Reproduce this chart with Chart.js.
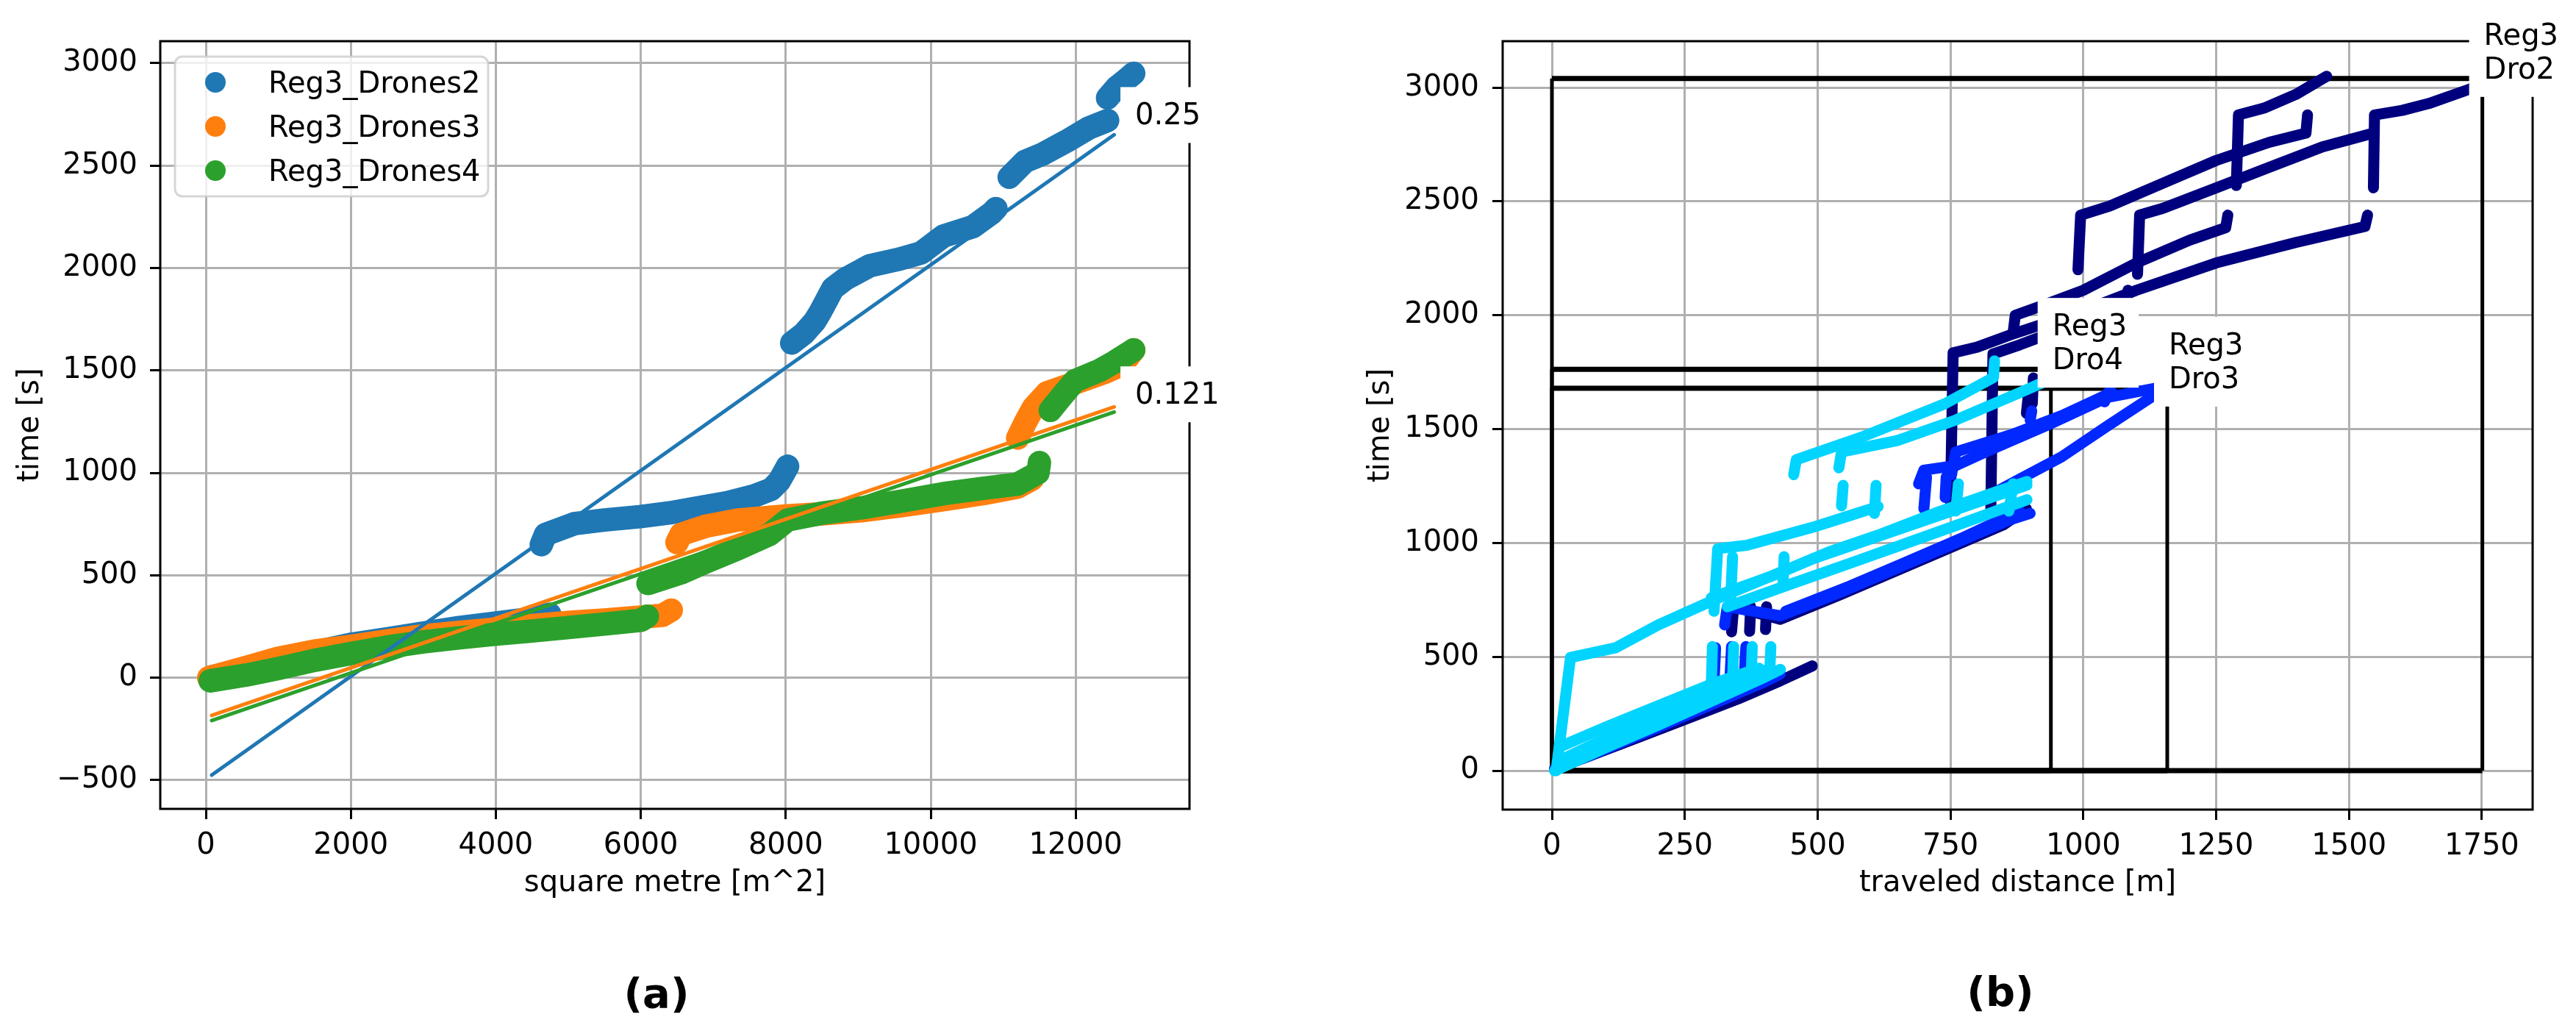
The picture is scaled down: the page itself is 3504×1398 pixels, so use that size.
<!DOCTYPE html>
<html>
<head>
<meta charset="utf-8">
<script src="https://cdn.jsdelivr.net/npm/chart.js@4.4.1/dist/chart.umd.min.js"></script>
<style>
  html, body { margin: 0; padding: 0; background: #fff; }
  body { width: 3504px; height: 1398px; position: relative; overflow: hidden; }
  canvas { position: absolute; top: 0; }
  #chartA { left: 0; }
  #chartB { left: 1750px; }
  .cap { position: absolute; font: bold 56px "DejaVu Sans"; transform: translate(-50%, -50%); }
</style>
</head>
<body>
<canvas id="chartA" width="1750" height="1260"></canvas>
<canvas id="chartB" width="1754" height="1260"></canvas>
<div class="cap" style="left:893px; top:1350px">(a)</div>
<div class="cap" style="left:2721px; top:1348px">(b)</div>
<script>
// ---------- (a) time vs covered area ----------
const areaTicks = [0, 2000, 4000, 6000, 8000, 10000, 12000];
const timeTicksA = [-500, 0, 500, 1000, 1500, 2000, 2500, 3000];
const seriesNames = ['Reg3_Drones2', 'Reg3_Drones3', 'Reg3_Drones4'];
const seriesColors = ['#1f77b4', '#ff7f0e', '#2ca02c'];

// runs of dots, [square metre, time]
const drones2Runs = [
  [[80,5],[600,45],[1122,90],[1500,125],[2028,165],[2500,190],[3043,220],[3500,245],[3951,265],[4400,285],[4744,310]],
  [[4628,650],[4687,700],[5083,752],[5500,770],[5989,786],[6400,805],[6781,829],[7200,855],[7574,889],[7800,920],[7911,960],[8025,1032]],
  [[8083,1634],[8250,1680],[8400,1740],[8479,1786],[8650,1900],[8820,1946],[9160,2011],[9567,2043],[9870,2074],[10176,2156],[10582,2202],[10837,2267],[10900,2290]],
  [[11083,2443],[11300,2520],[11533,2554],[11875,2619],[12180,2683],[12440,2720]],
  [[12440,2830],[12560,2880],[12700,2920],[12800,2950]]
];
const drones3Runs = [
  [[40,0],[555,50],[1000,95],[1500,130],[2028,155],[2500,180],[3000,205],[3500,222],[3951,236],[4500,255],[5000,270],[5500,282],[6000,296],[6300,305],[6420,330]],
  [[6500,660],[6555,700],[6900,740],[7346,770],[8026,790],[8500,800],[9040,815],[9600,840],[10200,870],[10740,900],[11196,930],[11400,970]],
  [[11200,1170],[11310,1250],[11420,1320],[11600,1390],[12000,1440],[12400,1490],[12650,1530],[12800,1600]]
];
const drones4Runs = [
  [[60,-15],[555,13],[1000,45],[1500,85],[2028,120],[2500,150],[3000,175],[3500,195],[3951,211],[4500,228],[5000,245],[5500,262],[6000,280],[6090,300]],
  [[6100,460],[6555,512],[6883,563],[7346,631],[7780,700],[8026,770],[8480,802],[9040,829],[9610,863],[10170,898],[10740,925],[11196,945],[11480,1000],[11500,1050]],
  [[11650,1305],[11800,1370],[11990,1450],[12330,1500],[12530,1540],[12800,1600]]
];

// linear fits: [start, end] in area and time
const fitArea = [81, 12530];
const fitDrones2 = [-475, 2650];
const fitDrones3 = [-184, 1322];
const fitDrones4 = [-209, 1297];
const slopeLabels = ['0.25', '0.121', null];
const maxArea = 12800;

// ---------- (b) time vs travelled distance ----------
const distTicks = [0, 250, 500, 750, 1000, 1250, 1500, 1750];
const timeTicksB = [0, 500, 1000, 1500, 2000, 2500, 3000];
const droNames = [['Reg3', 'Dro2'], ['Reg3', 'Dro3'], ['Reg3', 'Dro4']];
const droColors = ['#00007f', '#0028ff', '#00d4ff'];
const droMaxDist = [1751, 1158, 939];
const droMaxTime = [3040, 1680, 1763];

const dro2Paths = [
  [[5,10],[60,55],[150,135],[250,225],[350,315],[430,395],[490,460]],
  [[338,610],[342,720],[430,665],[540,770],[650,880],[760,990],[850,1080],[893,1150]],
  [[372,612],[374,720]],
  [[402,620],[404,720]],
  [[750,1180],[755,1835],[800,1860],[870,1920],[1000,2020],[1100,2110],[1250,2230],[1400,2320],[1530,2390],[1535,2440]],
  [[826,1150],[830,1830],[880,1870],[960,1940],[1050,2010],[1082,2050],[1084,2110]],
  [[868,1925],[872,2000],[920,2040],[1000,2110],[1100,2230],[1200,2330],[1268,2385],[1272,2440]],
  [[904,1612],[906,1725]],
  [[893,1570],[897,1660]],
  [[990,2200],[995,2440],[1050,2480],[1150,2580],[1250,2680],[1350,2760],[1419,2800],[1422,2880]],
  [[1102,2180],[1106,2440],[1150,2470],[1250,2560],[1350,2650],[1450,2740],[1546,2800]],
  [[1546,2560],[1548,2880],[1600,2900],[1650,2930],[1729,2995],[1751,3030]],
  [[1288,2570],[1292,2880],[1340,2910],[1400,2970],[1458,3050]]
];
const dro3Paths = [
  [[5,5],[80,75],[200,190],[300,290],[400,390],[430,425]],
  [[305,380],[308,540]], [[335,400],[338,545]], [[362,420],[365,545]],
  [[325,640],[330,720],[430,680],[550,790],[650,890],[760,1000],[860,1100],[900,1130]],
  [[440,700],[560,810],[660,910],[770,1020],[880,1140]],
  [[700,1150],[705,1290]], [[740,1200],[742,1290]],
  [[690,1260],[700,1320],[760,1340],[816,1400],[935,1520],[1046,1640],[1158,1690]],
  [[800,1180],[880,1280],[959,1378],[1046,1515],[1134,1650]],
  [[752,1300],[760,1400],[870,1480],[960,1560],[1054,1662]],
  [[900,1540],[903,1580]], [[1040,1620],[1046,1660]]
];
const dro4Paths = [
  [[5,0],[100,100],[200,200],[300,305],[400,410],[430,445]],
  [[10,40],[100,140],[200,240],[300,345],[400,440]],
  [[20,110],[100,190],[200,285],[300,380],[390,450]],
  [[8,0],[35,497],[120,540],[200,640],[305,750],[490,930],[740,1130],[894,1254]],
  [[300,380],[302,545]], [[340,400],[342,545]], [[375,420],[377,545]], [[410,440],[412,545]],
  [[305,700],[312,975],[367,990],[491,1069],[560,1120],[614,1160]],
  [[336,730],[340,940]],
  [[435,820],[437,940]],
  [[300,760],[420,860],[520,960],[620,1040],[720,1130],[830,1220],[894,1270]],
  [[330,720],[450,820],[560,910],[680,1010],[800,1110],[894,1190]],
  [[545,1163],[548,1253]], [[607,1130],[610,1253]], [[760,1140],[765,1260]], [[860,1140],[868,1260]],
  [[455,1300],[460,1366],[584,1466],[739,1611],[831,1727],[833,1800]],
  [[540,1330],[545,1400],[650,1450],[760,1540],[880,1660],[939,1720]]
];

const FONT = '"DejaVu Sans"';

function minusFmt(v) { return v < 0 ? '\u2212' + Math.abs(v) : String(v); }

function axis(ticks, titleText, titlePad, tickPad, fitSize, horizontal) {
  return {
    type: 'linear',
    afterBuildTicks: s => { s.ticks = ticks.map(v => ({ value: v })); },
    afterFit: s => { if (horizontal) s.height = fitSize; else s.width = fitSize; },
    grid: { color: '#b0b0b0', lineWidth: 3, tickColor: '#000', tickWidth: 3, tickLength: 14 },
    border: { display: false },
    ticks: { color: '#000', font: { family: FONT, size: 40 }, padding: tickPad,
      autoSkip: false, maxRotation: 0, callback: minusFmt },
    title: { display: true, text: titleText, color: '#000', font: { family: FONT, size: 40 },
      padding: horizontal ? { top: 0, bottom: titlePad } : { top: titlePad, bottom: 0 } }
  };
}

function lineSet(points, color, width, order) {
  return {
    type: 'scatter', showLine: true, order: order,
    data: points.map(([x, y]) => ({ x, y })),
    borderColor: color, backgroundColor: color, borderWidth: width,
    borderCapStyle: 'round', borderJoinStyle: 'round',
    pointRadius: 0, pointHoverRadius: 0, tension: 0, fill: false
  };
}

function boxedText(ctx, lines, x, y, gap) {
  ctx.font = '40px ' + FONT;
  const asc = ctx.measureText(lines[0]).actualBoundingBoxAscent;
  const w = Math.max(...lines.map(s => ctx.measureText(s).width));
  const top = y - (lines.length - 1) * gap - asc;
  ctx.fillStyle = '#fff';
  ctx.fillRect(x - 18, top - 20, w + 36, y - top + 45);
  ctx.fillStyle = '#000';
  ctx.textAlign = 'left';
  ctx.textBaseline = 'alphabetic';
  lines.forEach((s, i) => ctx.fillText(s, x + 2, y - (lines.length - 1 - i) * gap));
}

function frame(ctx, a) {
  ctx.save();
  ctx.strokeStyle = '#000';
  ctx.lineWidth = 3;
  ctx.strokeRect(a.left, a.top, a.right - a.left, a.bottom - a.top);
  ctx.restore();
}

// ---------- chart (a) ----------
const runsA = [drones2Runs, drones3Runs, drones4Runs];
const fitsA = [fitDrones2, fitDrones3, fitDrones4];
const datasetsA = [];
runsA.forEach((runs, i) => {
  runs.forEach(r => datasetsA.push(lineSet(r, seriesColors[i], 32, 6 - i)));
});
fitsA.forEach((f, i) => {
  datasetsA.push(lineSet([[fitArea[0], f[0]], [fitArea[1], f[1]]], seriesColors[i], 5, 3 - i));
});

const decorA = {
  id: 'decorA',
  afterDraw(chart) {
    const { ctx, chartArea: a, scales: { x, y } } = chart;
    frame(ctx, a);
    // legend
    ctx.save();
    const lx = a.left + 20, ly = a.top + 21, lw = 426, lh = 190;
    ctx.beginPath();
    ctx.roundRect(lx, ly, lw, lh, 10);
    ctx.fillStyle = 'rgba(255,255,255,0.8)';
    ctx.fill();
    ctx.strokeStyle = 'rgba(204,204,204,0.8)';
    ctx.lineWidth = 3;
    ctx.stroke();
    ctx.font = '40px ' + FONT;
    ctx.textBaseline = 'alphabetic';
    seriesNames.forEach((name, i) => {
      const cy = ly + 35 + i * 60;
      ctx.beginPath();
      ctx.arc(lx + 55, cy, 14, 0, Math.PI * 2);
      ctx.fillStyle = seriesColors[i];
      ctx.fill();
      ctx.fillStyle = '#000';
      ctx.fillText(name, lx + 127, cy + 14);
    });
    // slope labels at the right end of the data
    fitsA.forEach((f, i) => {
      if (!slopeLabels[i]) return;
      const t = f[0] + (f[1] - f[0]) * (maxArea - fitArea[0]) / (fitArea[1] - fitArea[0]);
      boxedText(ctx, [slopeLabels[i]], x.getPixelForValue(maxArea), y.getPixelForValue(t) + 5, 46);
    });
    ctx.restore();
  }
};

new Chart(document.getElementById('chartA'), {
  data: { datasets: datasetsA },
  options: {
    responsive: false, animation: false, devicePixelRatio: 1, events: [],
    layout: { padding: { top: 56, right: 132, left: 0, bottom: 0 } },
    plugins: { legend: { display: false }, tooltip: { enabled: false } },
    scales: {
      x: Object.assign(axis(areaTicks, 'square metre [m^2]', 34, 13, 160, true), { min: -629, max: 13570 }),
      y: Object.assign(axis(timeTicksA, 'time [s]', 18, 17, 218, false), { min: -640, max: 3107 })
    }
  },
  plugins: [decorA]
});

// ---------- chart (b) ----------
const datasetsB = [];
droMaxDist.forEach((d, i) => {
  const t = droMaxTime[i];
  [[[0, 0], [d, 0]], [[0, t], [d, t]]].forEach(seg => {
    const h = lineSet(seg, '#000', 7, 10);
    h.borderCapStyle = 'butt';
    datasetsB.push(h);
  });
  [[[0, 0], [0, t]], [[d, 0], [d, t]]].forEach(seg => {
    const v = lineSet(seg, '#000', 5, 10);
    v.borderCapStyle = 'butt';
    datasetsB.push(v);
  });
});
[dro2Paths, dro3Paths, dro4Paths].forEach((paths, i) => {
  paths.forEach(p => datasetsB.push(lineSet(p, droColors[i], 15, 3 - i)));
});

const decorB = {
  id: 'decorB',
  afterDraw(chart) {
    const { ctx, chartArea: a, scales: { x, y } } = chart;
    frame(ctx, a);
    ctx.save();
    droNames.forEach((lines, i) => {
      boxedText(ctx, lines, x.getPixelForValue(droMaxDist[i]), y.getPixelForValue(droMaxTime[i]), 46);
    });
    ctx.restore();
  }
};

new Chart(document.getElementById('chartB'), {
  data: { datasets: datasetsB },
  options: {
    responsive: false, animation: false, devicePixelRatio: 1, events: [],
    layout: { padding: { top: 56, right: 59, left: 0, bottom: 0 } },
    plugins: { legend: { display: false }, tooltip: { enabled: false } },
    scales: {
      x: Object.assign(axis(distTicks, 'traveled distance [m]', 34, 13, 159, true), { min: -92.7, max: 1845.6 }),
      y: Object.assign(axis(timeTicksB, 'time [s]', 105, 18, 294, false), { min: -171, max: 3204 })
    }
  },
  plugins: [decorB]
});
</script>
</body>
</html>
